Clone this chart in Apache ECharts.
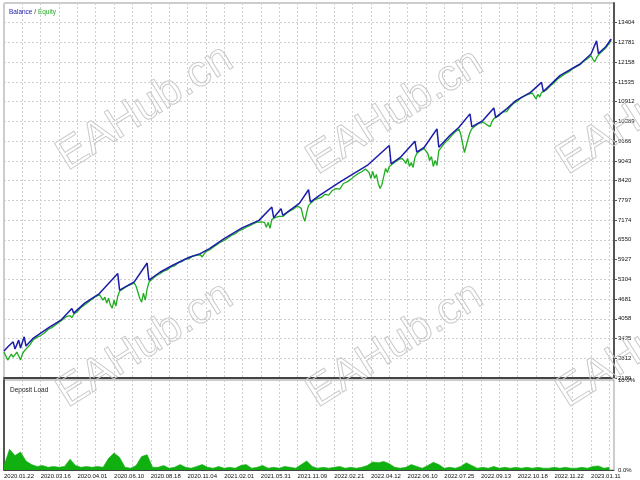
<!DOCTYPE html>
<html>
<head>
<meta charset="utf-8">
<script src="https://cdn.jsdelivr.net/npm/echarts@6.0.0/dist/echarts.min.js"></script>
<style>
  html, body { margin: 0; padding: 0; background: #fff; }
  #chart { width: 640px; height: 480px; }
</style>
</head>
<body>
<div id="chart"></div>
<script>
// x = trade number, y = account value
var dateLabels = ['2020.01.22', '2020.03.16', '2020.04.01', '2020.06.10', '2020.08.18', '2020.11.04',
    '2021.02.01', '2021.05.31', '2021.11.09', '2022.02.21', '2022.04.12', '2022.06.10',
    '2022.07.25', '2022.09.13', '2022.10.18', '2022.11.22', '2023.01.11'];

// right axis: 2189, 2812, 3435 ... 13404 (labels are truncated, not rounded)
var yBase = 2189.6, yStep = 623.05, yCount = 19;

var balancePts = [[0,3040],[2,3166],[5,3332],[6,3103],[8,3386],[9,3134],[11,3490],[12,3197],[16,3449],[25,3805],
    [31,4016],[37,4385],[38,4237],[44,4552],[52,4857],[62,5487],[63,4961],[71,5222],[78,5821],[79,5276],
    [85,5528],[92,5749],[101,6001],[107,6117],[112,6275],[120,6590],[130,6936],[139,7166],[146,7585],[147,7251],
    [151,7535],[152,7324],[161,7702],[166,8133],[167,7742],[172,7954],[183,8372],[189,8584],[198,8899],[210,9529],
    [211,8952],[216,9151],[224,9664],[225,9317],[229,9466],[236,10055],[237,9475],[243,9844],[248,10105],[254,10527],
    [255,10120],[261,10316],[267,10716],[268,10420],[274,10685],[279,10946],[287,11207],[293,11522],[294,11230],[303,11734],
    [314,12102],[320,12417],[323,12836],[324,12430],[328,12647],[331,12890]];

var equityPts = [[0,3008],[1,2882],[2,2756],[3,2693],[4,2945],[5,2851],[6,2914],[7,3008],[8,2882],[9,2756],
    [10,2945],[11,3040],[12,3103],[14,3229],[16,3400],[18,3480],[20,3530],[22,3610],[24,3720],[26,3780],
    [28,3860],[30,3950],[32,4040],[34,4130],[36,4160],[37,4090],[38,4200],[40,4290],[42,4420],[44,4500],
    [46,4590],[48,4680],[50,4760],[52,4820],[53,4772],[54,4646],[55,4740],[56,4552],[57,4709],[58,4489],
    [59,4394],[60,4646],[61,4457],[62,4772],[63,4930],[65,5010],[67,5090],[69,5140],[71,5190],[72,5087],
    [73,4898],[74,4709],[75,4583],[76,4866],[77,4646],[78,4993],[79,5213],[81,5330],[83,5420],[85,5480],
    [87,5560],[89,5600],[91,5700],[93,5730],[95,5830],[97,5870],[99,5950],[101,5960],[103,6040],[105,6060],
    [107,6080],[108,6010],[110,6180],[112,6230],[114,6320],[116,6400],[118,6480],[120,6530],[122,6610],[124,6700],
    [126,6740],[128,6830],[130,6880],[132,6950],[134,7000],[136,7060],[138,7110],[140,7120],[141,7060],[142,7103],
    [143,6946],[144,7103],[145,6914],[146,7198],[147,7230],[148,7260],[149,7230],[150,7290],[151,7300],[152,7290],
    [154,7390],[156,7470],[158,7530],[160,7620],[161,7650],[162,7544],[163,7292],[164,7135],[165,7418],[166,7639],
    [167,7700],[169,7800],[171,7850],[173,7890],[175,7990],[177,7960],[179,8110],[181,8170],[183,8150],[185,8330],
    [187,8380],[189,8460],[191,8560],[193,8640],[195,8700],[197,8790],[198,8850],[199,8678],[200,8489],[201,8710],
    [202,8489],[203,8615],[204,8332],[205,8174],[206,8300],[207,8552],[208,8804],[209,8678],[210,8867],[211,8900],
    [213,9000],[215,9080],[217,9120],[218,9056],[219,8962],[220,9119],[221,8867],[222,8993],[223,8836],[224,9151],
    [225,9277],[227,9370],[229,9430],[230,9380],[231,9277],[232,9056],[233,9182],[234,8867],[235,9056],[236,8899],
    [237,9371],[238,9440],[240,9600],[242,9700],[244,9840],[246,9960],[248,10050],[249,9875],[250,9592],[251,9308],
    [252,9529],[253,9749],[254,9938],[255,10060],[257,10150],[259,10230],[261,10270],[262,10285],[263,10190],[264,10253],
    [265,10127],[266,10285],[267,10379],[268,10400],[270,10480],[272,10590],[274,10600],[276,10760],[278,10870],[280,10930],
    [282,11040],[284,11100],[286,11150],[288,11180],[289,11090],[290,11000],[291,11140],[292,11060],[293,11200],[294,11230],
    [296,11300],[298,11420],[300,11520],[302,11640],[304,11720],[306,11800],[308,11860],[310,11950],[312,12020],[314,12080],
    [316,12190],[318,12270],[320,12360],[321,12250],[322,12170],[323,12300],[324,12390],[326,12500],[328,12610],[330,12760],
    [331,12850]];

// deposit load in %, one value every 3 trades
var loadStep = 3;
var loadPct = [0.5,2.3,1.6,2.0,1.0,0.6,0.4,0.5,0.3,0.4,
    0.3,0.4,1.2,0.5,0.3,0.4,0.3,0.4,0.3,1.3,
    1.9,1.4,0.3,0.2,0.5,1.5,1.7,0.3,0.3,0.5,
    0.2,0.3,0.6,0.3,0.2,0.4,0.6,0.3,0.2,0.4,
    0.2,0.3,0.2,0.5,0.6,0.2,0.3,0.5,0.2,0.3,
    0.2,0.4,0.3,0.2,0.6,1.0,0.4,0.2,0.3,0.2,
    0.3,0.4,0.2,0.3,0.2,0.3,0.5,0.9,0.8,0.95,
    0.7,0.3,0.2,0.3,0.6,0.4,0.2,0.5,0.85,0.6,
    0.2,0.3,0.2,0.4,0.8,0.5,0.2,0.3,0.2,0.4,
    0.2,0.3,0.2,0.3,0.2,0.3,0.2,0.3,0.2,0.2,
    0.3,0.2,0.3,0.2,0.2,0.3,0.2,0.4,0.45,0.2,
    0.3];

var wmPos = [[145,108],[395,112],[645,112],[145,345],[395,345],[645,345]];

var gridLine = {show: true, lineStyle: {color: '#cfcfcf', type: [2, 2], width: 1}};
var lblFont = 'Liberation Sans';

var myChart = echarts.init(document.getElementById('chart'));
var option = {
    animation: false,
    title: [
        {
            text: '{b|Balance} / {e|Equity}',
            left: 4, top: 4,
            textStyle: {
                fontSize: 6.5, fontWeight: 'normal', color: '#333', fontFamily: lblFont,
                rich: {
                    b: {color: '#1c1caa', fontSize: 6.5, fontFamily: lblFont},
                    e: {color: '#1fae1f', fontSize: 6.5, fontFamily: lblFont}
                }
            }
        },
        {
            text: 'Deposit Load',
            left: 5, top: 382,
            textStyle: {fontSize: 6.5, fontWeight: 'normal', color: '#222', fontFamily: lblFont}
        }
    ],
    graphic: wmPos.map(function (p) {
        return {
            type: 'text', x: p[0], y: p[1], rotation: 0.56, z: 1, silent: true,
            style: {
                text: 'EAHub.cn', font: '44px "Liberation Sans", sans-serif',
                fill: 'rgba(0,0,0,0)', stroke: '#cacaca', lineWidth: 1,
                align: 'center', verticalAlign: 'middle'
            }
        };
    }),
    grid: [
        {left: 4, right: 26, top: 3, height: 375, show: true, borderColor: '#999', borderWidth: 1},
        {left: 4, right: 26, top: 380, height: 90, show: true, borderColor: '#999', borderWidth: 1}
    ],
    xAxis: [
        {
            gridIndex: 0, type: 'value', min: 0, max: 332.5, interval: 10,
            axisLabel: {show: false}, axisTick: {show: false},
            axisLine: {show: true, onZero: false, lineStyle: {color: '#444', width: 2}},
            splitLine: gridLine
        },
        {
            gridIndex: 1, type: 'value', min: 0, max: 332.5, interval: 10,
            axisLabel: {
                fontSize: 6, color: '#111', align: 'left', margin: 3, fontFamily: lblFont,
                formatter: function (v) {
                    return (v % 20 === 0 && dateLabels[v / 20]) ? dateLabels[v / 20] : '';
                }
            },
            axisTick: {show: false},
            axisLine: {show: true, onZero: false, lineStyle: {color: '#444', width: 1}},
            splitLine: gridLine
        }
    ],
    yAxis: [
        {gridIndex: 0, type: 'value', min: yBase, max: yBase + yCount * yStep, show: false},
        {
            // tick counter axis: k = 0..19, label = yBase + k * yStep
            gridIndex: 0, type: 'value', position: 'right', min: 0, max: yCount, interval: 1,
            axisLine: {show: true, lineStyle: {color: '#555', width: 2}},
            axisTick: {show: true, length: 3, lineStyle: {color: '#555'}},
            axisLabel: {
                fontSize: 6, color: '#111', margin: 4, showMaxLabel: false, fontFamily: lblFont,
                formatter: function (k) { return String(Math.floor(yBase + k * yStep)); }
            },
            splitLine: gridLine
        },
        {
            gridIndex: 1, type: 'value', position: 'right', min: 0, max: 10, interval: 10,
            axisLine: {show: true, lineStyle: {color: '#555', width: 2}},
            axisTick: {show: false},
            axisLabel: {
                fontSize: 6, color: '#111', margin: 4, fontFamily: lblFont,
                formatter: function (v) { return v.toFixed(1) + '%'; }
            },
            splitLine: {show: false}
        }
    ],
    series: [
        {
            name: 'Equity', type: 'line', xAxisIndex: 0, yAxisIndex: 0,
            data: equityPts, symbol: 'none', z: 3,
            lineStyle: {color: '#1fae1f', width: 1.3}
        },
        {
            name: 'Balance', type: 'line', xAxisIndex: 0, yAxisIndex: 0,
            data: balancePts, symbol: 'none', z: 4,
            lineStyle: {color: '#1c1caa', width: 1.5}
        },
        {
            name: 'Deposit Load', type: 'line', xAxisIndex: 1, yAxisIndex: 2,
            data: loadPct.map(function (v, i) { return [i * loadStep, v]; }),
            symbol: 'none', z: 3,
            lineStyle: {color: '#10b010', width: 0.6},
            areaStyle: {color: '#10b010', opacity: 1}
        }
    ]
};
myChart.setOption(option);
</script>
</body>
</html>
